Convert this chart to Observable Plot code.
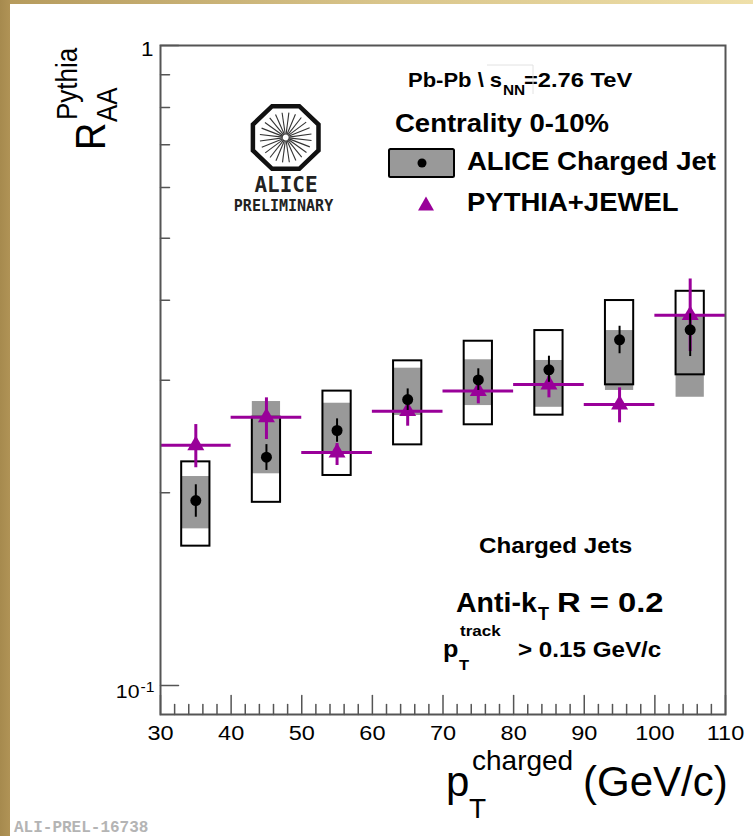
<!DOCTYPE html>
<html>
<head>
<meta charset="utf-8">
<script src="https://cdn.jsdelivr.net/npm/d3@7"></script>
<script src="https://cdn.jsdelivr.net/npm/@observablehq/plot@0.6"></script>
<style>
  html, body { margin: 0; padding: 0; background: white; overflow: hidden; }
  svg { display: block; }
</style>
</head>
<body>
<div id="chart"></div>
<script>
// ---------------- data ----------------
const pt       = [35, 45, 55, 65, 75, 85, 95, 105];
const binLow   = [30, 40, 50, 60, 70, 80, 90, 100];
const binHigh  = [40, 50, 60, 70, 80, 90, 100, 110];

// ALICE charged jet R_AA (central values, statistical errors)
const aliceVal = [0.1945, 0.2274, 0.2503, 0.2798, 0.3003, 0.3114, 0.3468, 0.3595];
const statLo   = [0.1832, 0.2168, 0.2399, 0.2690, 0.2891, 0.2977, 0.3299, 0.3266];
const statHi   = [0.2059, 0.2379, 0.2610, 0.2907, 0.3125, 0.3270, 0.3642, 0.3808];
// systematic uncertainty (open boxes)
const sysLo    = [0.1651, 0.1933, 0.2129, 0.2377, 0.2555, 0.2645, 0.2950, 0.3058];
const sysHi    = [0.2236, 0.2625, 0.2884, 0.3216, 0.3451, 0.3586, 0.3995, 0.4130];
// shape uncertainty (grey boxes)
const shapeLo  = [0.1757, 0.2142, 0.2301, 0.2642, 0.2738, 0.2721, 0.2891, 0.2821];
const shapeHi  = [0.2121, 0.2778, 0.2761, 0.3132, 0.3228, 0.3220, 0.3586, 0.3785];
// PYTHIA+JEWEL
const jewelVal = [0.2373, 0.2625, 0.2312, 0.2683, 0.2884, 0.2953, 0.2748, 0.3790];
const jewelLo  = [0.2189, 0.2423, 0.2207, 0.2542, 0.2755, 0.2815, 0.2573, 0.3325];
const jewelHi  = [0.2557, 0.2815, 0.2388, 0.2758, 0.2977, 0.3040, 0.2918, 0.4317];

// axis ticks
const xMajorTicks = [30, 40, 50, 60, 70, 80, 90, 100, 110];
const xTickLabels = ["30", "40", "50", "60", "70", "80", "90", "100", "110"];
const xMinorTicks = [32, 34, 36, 38, 42, 44, 46, 48, 52, 54, 56, 58, 62, 64, 66, 68,
                     72, 74, 76, 78, 82, 84, 86, 88, 92, 94, 96, 98, 102, 104, 106, 108];
const yMajorTicks = [0.1, 1];
const yMinorTicks = [0.2, 0.3, 0.4, 0.5, 0.6, 0.7, 0.8, 0.9];
const yTopLabel = ["1"];
const yBottomLabel = ["10"];
const yBottomExp = ["-1"];

// ---------------- styling ----------------
const SYS_HW = 2;             // half width of the uncertainty boxes (GeV/c)
const PURPLE = "#990099";
const GREY = "#999999";
const AXIS = "#555555";
const SANS = "'Liberation Sans', Arial, Helvetica, sans-serif";
const MONO = "'DejaVu Sans Mono', monospace";

const rows = pt.map((x, i) => ({
  x, lo: binLow[i], hi: binHigh[i],
  alice: aliceVal[i], statLo: statLo[i], statHi: statHi[i],
  sysLo: sysLo[i], sysHi: sysHi[i], shapeLo: shapeLo[i], shapeHi: shapeHi[i],
  jewel: jewelVal[i], jewelLo: jewelLo[i], jewelHi: jewelHi[i]
}));

const tickLine = {draw(context, l) { context.moveTo(0, 0); context.lineTo(0, -l); }};

const plot = Plot.plot({
  width: 753,
  height: 836,
  marginLeft: 160,
  marginRight: 28,
  marginTop: 45,
  marginBottom: 122,
  x: {type: "linear", domain: [30, 110], axis: null},
  y: {type: "log", domain: [0.0901, 1], axis: null},
  marks: [
    Plot.rect(rows, {x1: d => d.x - SYS_HW, x2: d => d.x + SYS_HW, y1: "shapeLo", y2: "shapeHi", fill: GREY}),
    Plot.rect(rows, {x1: d => d.x - SYS_HW, x2: d => d.x + SYS_HW, y1: "sysLo", y2: "sysHi", fill: "none", stroke: "black", strokeWidth: 2}),
    Plot.ruleY(rows, {y: "jewel", x1: "lo", x2: "hi", stroke: PURPLE, strokeWidth: 3}),
    Plot.ruleX(rows, {x: "x", y1: "jewelLo", y2: "jewelHi", stroke: PURPLE, strokeWidth: 3}),
    Plot.dot(rows, {x: "x", y: "jewel", symbol: "triangle", r: 6.3, fill: PURPLE, stroke: "none"}),
    Plot.ruleX(rows, {x: "x", y1: "statLo", y2: "statHi", stroke: "black", strokeWidth: 2}),
    Plot.dot(rows, {x: "x", y: "alice", r: 5.5, fill: "black", stroke: "none"}),
    // axis ticks (inward)
    Plot.vector(xMajorTicks, {x: d => d, frameAnchor: "bottom", length: 19, anchor: "start", shape: tickLine, stroke: AXIS, strokeWidth: 1.5}),
    Plot.vector(xMinorTicks, {x: d => d, frameAnchor: "bottom", length: 10, anchor: "start", shape: tickLine, stroke: AXIS, strokeWidth: 1.5}),
    Plot.vector(yMajorTicks, {y: d => d, frameAnchor: "left", length: 18, rotate: 90, anchor: "start", shape: tickLine, stroke: AXIS, strokeWidth: 1.5}),
    Plot.vector(yMinorTicks, {y: d => d, frameAnchor: "left", length: 9, rotate: 90, anchor: "start", shape: tickLine, stroke: AXIS, strokeWidth: 1.5}),
    Plot.frame({stroke: AXIS, strokeWidth: 2}),
    // tick labels
    Plot.text(xMajorTicks, {x: d => d, text: (d, i) => xTickLabels[i], frameAnchor: "bottom", dy: 19, lineAnchor: "middle", textAnchor: "middle", fontSize: 21, fontFamily: SANS, fill: "black"}),
    Plot.text([1], {y: d => d, text: (d, i) => yTopLabel[i], frameAnchor: "left", dx: -7, dy: 4, lineAnchor: "middle", textAnchor: "end", fontSize: 20, fontFamily: SANS, fill: "black"}),
    Plot.text([0.1], {y: d => d, text: (d, i) => yBottomLabel[i], frameAnchor: "left", dx: -21, dy: 12, lineAnchor: "bottom", textAnchor: "end", fontSize: 19, fontFamily: SANS, fill: "black"}),
    Plot.text([0.1], {y: d => d, text: (d, i) => yBottomExp[i], frameAnchor: "left", dx: -20, dy: 6, lineAnchor: "bottom", textAnchor: "start", fontSize: 14, fontFamily: SANS, fill: "black"})
  ]
});

// horizontally stretched glyphs, as in the reference
plot.querySelectorAll("text").forEach(el => {
  const tr = el.getAttribute("transform");
  if (tr) {
    el.setAttribute("transform", tr + " scale(1.12,1)");
  } else {
    const x = parseFloat(el.getAttribute("x")) || 0;
    el.removeAttribute("x");
    el.setAttribute("transform", `translate(${x},0) scale(1.12,1)`);
  }
});

plot.style.background =
  "linear-gradient(90deg, #a68a4e 0px, #b09356 10px, transparent 10px), " +
  "linear-gradient(90deg, #b59a5c 0%, #d8c48a 50%, #efe0aa 100%) top left / 100% 4px no-repeat, white";

document.getElementById("chart").appendChild(plot);

// ---------------- annotations ----------------
const svg = d3.select(plot);
const g = svg.append("g");

function txt(x, y, str, {size = 20, weight = "normal", family = SANS, sx = 1, anchor = "start", fill = "black", rotate = 0} = {}) {
  return g.append("text")
    .attr("transform", `translate(${x},${y}) scale(${sx},1)${rotate ? ` rotate(${rotate})` : ""}`)
    .attr("font-family", family)
    .attr("font-size", size)
    .attr("font-weight", weight)
    .attr("text-anchor", anchor)
    .attr("fill", fill)
    .text(str);
}

// y axis title R_AA^Pythia (rotated)
txt(105, 150, "R", {size: 38, sx: 1.12, rotate: -90});
txt(117, 122, "AA", {size: 26, sx: 1.12, rotate: -90});
txt(77, 120, "Pythia", {size: 26, sx: 1.12, rotate: -90});

// x axis title p_T^charged (GeV/c)
txt(446, 796, "p", {size: 42});
txt(469, 818, "T", {size: 28});
txt(472, 770, "charged", {size: 28});
txt(583, 796, "(GeV/c)", {size: 42});

// top-right text & legend
txt(408, 87, "Pb-Pb \\ s", {size: 20, weight: "bold", sx: 1.1});
txt(503, 95, "NN", {size: 14, weight: "bold", sx: 1.1});
txt(524, 87, "=2.76 TeV", {size: 21, weight: "bold", sx: 1.13});
g.append("path").attr("d", "M487,65 L533,65 L533,94").attr("fill", "none").attr("stroke", "#e2e2e2").attr("stroke-width", 1);
txt(395, 132, "Centrality 0-10%", {size: 25, weight: "bold", sx: 1.1});
txt(467, 170, "ALICE Charged Jet", {size: 25, weight: "bold", sx: 1.1});
txt(467, 210.5, "PYTHIA+JEWEL", {size: 25, weight: "bold", sx: 1.1});
g.append("rect").attr("x", 389).attr("y", 149).attr("width", 65).attr("height", 28)
  .attr("rx", 1.5).attr("fill", GREY).attr("stroke", "black").attr("stroke-width", 2);
g.append("circle").attr("cx", 422).attr("cy", 163).attr("r", 4.5).attr("fill", "black");
g.append("path").attr("d", "M418,210.5 L434,210.5 L426,196.5 Z").attr("fill", PURPLE);

// lower text block
txt(479, 553.3, "Charged Jets", {size: 22, weight: "bold", sx: 1.1});
txt(456, 611.7, "Anti-k", {size: 28.5, weight: "bold", sx: 1.0});
txt(538, 620, "T", {size: 18, weight: "bold", sx: 1.0});
txt(557, 611.7, "R = 0.2", {size: 28.5, weight: "bold", sx: 1.15});
txt(443, 656.7, "p", {size: 24, weight: "bold", sx: 1.05});
txt(460, 636, "track", {size: 15.5, weight: "bold", sx: 1.1});
txt(459, 670, "T", {size: 15, weight: "bold", sx: 1.1});
txt(518, 656.7, "> 0.15 GeV/c", {size: 22, weight: "bold", sx: 1.1});

// ALICE preliminary logo
const cx = 285.7, cy = 137.5, ax = 35.5, ay = 33.9;
const oct = d3.range(8).map(k => {
  const t = (22.5 + 45 * k) * Math.PI / 180;
  return [cx + ax * Math.cos(t), cy + ay * Math.sin(t)];
});
g.append("path").attr("d", "M" + oct.map(p => p.join(",")).join("L") + "Z")
  .attr("fill", "none").attr("stroke", "#111").attr("stroke-width", 4.5).attr("stroke-linejoin", "miter");
d3.range(24).forEach(k => {
  const t = (k * 15 + 7) * Math.PI / 180;
  g.append("line")
    .attr("x1", cx + 3 * Math.cos(t)).attr("y1", cy + 3 * Math.sin(t))
    .attr("x2", cx + 26 * Math.cos(t)).attr("y2", cy + 25 * Math.sin(t))
    .attr("stroke", "#333").attr("stroke-width", 1.1);
});
txt(286, 191.5, "ALICE", {size: 21, weight: "bold", family: MONO, anchor: "middle", fill: "#222"});
txt(283.5, 211, "PRELIMINARY", {size: 15, weight: "bold", family: MONO, anchor: "middle", fill: "#222"});

// figure id
txt(14, 832, "ALI-PREL-16738", {size: 16, weight: "bold", family: "'Liberation Mono', 'Courier New', monospace", fill: "#b4b4b4"});
</script>
</body>
</html>
